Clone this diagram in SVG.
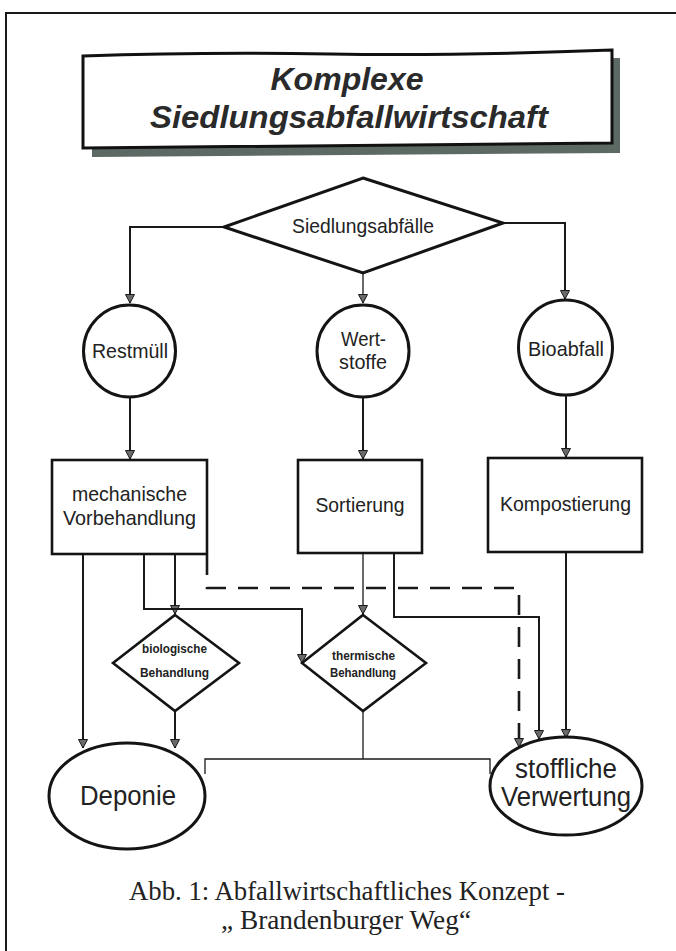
<svg xmlns="http://www.w3.org/2000/svg" width="676" height="951" viewBox="0 0 676 951">
<style>
.ln{fill:none;stroke:#1a1a1a;stroke-width:2}
.thin{fill:none;stroke:#1a1a1a;stroke-width:1.3}
.dash{fill:none;stroke:#1a1a1a;stroke-width:2.6;stroke-dasharray:20 12}
.shape{fill:#fff;stroke:#141414;stroke-width:3}
.box{fill:#fff;stroke:#141414;stroke-width:2.6}
.lbl{font-family:"Liberation Sans",Arial,sans-serif;font-size:21px;fill:#222;text-anchor:middle}
.big{font-family:"Liberation Sans",Arial,sans-serif;font-size:27px;fill:#222;text-anchor:middle}
.sm{font-family:"Liberation Sans",Arial,sans-serif;font-size:13px;font-weight:bold;fill:#222;text-anchor:middle}
.title{font-family:"Liberation Sans",Arial,sans-serif;font-size:32px;font-weight:bold;font-style:italic;fill:#2a2a2a;text-anchor:middle}
.cap{font-family:"Liberation Serif","Times New Roman",serif;font-size:27px;fill:#222;text-anchor:middle}
</style>
<defs>
<marker id="ar" markerUnits="userSpaceOnUse" markerWidth="10" markerHeight="10" viewBox="0 0 10 10" refX="9" refY="5" orient="auto">
<path d="M0.5,0.5 L9,5 L0.5,9.5 Z" fill="#6a6a6a" stroke="#1a1a1a" stroke-width="1"/>
</marker>
</defs>
<rect width="676" height="951" fill="#fff"/>
<path d="M6,951 V13 H676" fill="none" stroke="#1a1a1a" stroke-width="2"/>

<g id="title">
<path d="M92,64 L620,58 L620,153 L92,157 Z" fill="#5d6a64"/>
<path d="M83,56 Q200,52 330,54 T612,50 L612,143 L83,148 Z" fill="#fff" stroke="#111" stroke-width="3"/>
<text class="title" x="347" y="90" textLength="153" lengthAdjust="spacingAndGlyphs">Komplexe</text>
<text class="title" x="349" y="128" textLength="398" lengthAdjust="spacingAndGlyphs">Siedlungsabfallwirtschaft</text>
</g>

<g id="connectors">
<path class="ln" d="M224,227 H130 V303" marker-end="url(#ar)"/>
<path class="thin" d="M363,273 V303" marker-end="url(#ar)"/>
<path class="ln" d="M503,223 H565 V299" marker-end="url(#ar)"/>
<path class="ln" d="M130,397 V459" marker-end="url(#ar)"/>
<path class="ln" d="M363,397 V459" marker-end="url(#ar)"/>
<path class="ln" d="M566,395 V457" marker-end="url(#ar)"/>
<path class="ln" d="M83,554 V748" marker-end="url(#ar)"/>
<path class="ln" d="M175,554 V614" marker-end="url(#ar)"/>
<path class="ln" d="M144,554 V609 H302 V663" marker-end="url(#ar)"/>
<path class="ln" d="M175,711 V748" marker-end="url(#ar)"/>
<path class="dash" d="M207,555 V588 H519 V747" marker-end="url(#ar)"/>
<path class="thin" d="M363,553 V614" marker-end="url(#ar)"/>
<path class="ln" d="M394,553 V617 H539 V739" marker-end="url(#ar)"/>
<path class="ln" d="M566,552 V738" marker-end="url(#ar)"/>
<path class="thin" d="M363,711 V759"/>
<path class="thin" d="M205,774 V759 H490 V774"/>
</g>

<g id="siedlungsabfaelle">
<path class="shape" d="M363,178 L503,223 L363,273 L224,227 Z"/>
<text class="lbl" x="363" y="233" textLength="142" lengthAdjust="spacingAndGlyphs">Siedlungsabfälle</text>
</g>

<g id="restmuell">
<ellipse class="shape" cx="129.5" cy="351" rx="46" ry="46"/>
<text class="lbl" x="130" y="358" textLength="76" lengthAdjust="spacingAndGlyphs">Restmüll</text>
</g>

<g id="wertstoffe">
<ellipse class="shape" cx="363" cy="351" rx="46" ry="46"/>
<text class="lbl" x="363.5" y="346" textLength="45" lengthAdjust="spacingAndGlyphs">Wert-</text>
<text class="lbl" x="363" y="369" textLength="48" lengthAdjust="spacingAndGlyphs">stoffe</text>
</g>

<g id="bioabfall">
<ellipse class="shape" cx="565.5" cy="347.5" rx="47" ry="47.5"/>
<text class="lbl" x="566" y="356" textLength="76" lengthAdjust="spacingAndGlyphs">Bioabfall</text>
</g>

<g id="mech">
<rect class="box" x="52" y="460" width="155" height="94"/>
<text class="lbl" x="129.5" y="501" textLength="115" lengthAdjust="spacingAndGlyphs">mechanische</text>
<text class="lbl" x="129.5" y="525" textLength="133" lengthAdjust="spacingAndGlyphs">Vorbehandlung</text>
</g>

<g id="sortierung">
<rect class="box" x="298" y="460" width="124" height="93"/>
<text class="lbl" x="360" y="512" textLength="89" lengthAdjust="spacingAndGlyphs">Sortierung</text>
</g>

<g id="kompostierung">
<rect class="box" x="488" y="458" width="154" height="94"/>
<text class="lbl" x="565.5" y="511" textLength="131" lengthAdjust="spacingAndGlyphs">Kompostierung</text>
</g>

<g id="biologisch">
<path class="box" d="M175,615 L239,663 L175,711 L113,663 Z"/>
<text class="sm" x="174.5" y="653" textLength="65" lengthAdjust="spacingAndGlyphs">biologische</text>
<text class="sm" x="174.5" y="677" textLength="69" lengthAdjust="spacingAndGlyphs">Behandlung</text>
</g>

<g id="thermisch">
<path class="box" d="M363,615 L426,663 L363,711 L302,663 Z"/>
<text class="sm" x="363.5" y="660" textLength="63" lengthAdjust="spacingAndGlyphs">thermische</text>
<text class="sm" x="363" y="677" textLength="66" lengthAdjust="spacingAndGlyphs">Behandlung</text>
</g>

<g id="deponie">
<ellipse class="shape" cx="127" cy="796" rx="78" ry="53"/>
<text class="big" x="128" y="805" textLength="96" lengthAdjust="spacingAndGlyphs">Deponie</text>
</g>

<g id="stofflich">
<ellipse class="shape" cx="566" cy="786" rx="76" ry="49"/>
<text class="big" x="566" y="778" textLength="102" lengthAdjust="spacingAndGlyphs">stoffliche</text>
<text class="big" x="566" y="806" textLength="130" lengthAdjust="spacingAndGlyphs">Verwertung</text>
</g>

<g id="caption">
<text class="cap" x="347" y="900" textLength="436" lengthAdjust="spacingAndGlyphs">Abb. 1: Abfallwirtschaftliches Konzept -</text>
<text class="cap" x="346" y="929" textLength="250" lengthAdjust="spacingAndGlyphs">„ Brandenburger Weg“</text>
</g>
</svg>
